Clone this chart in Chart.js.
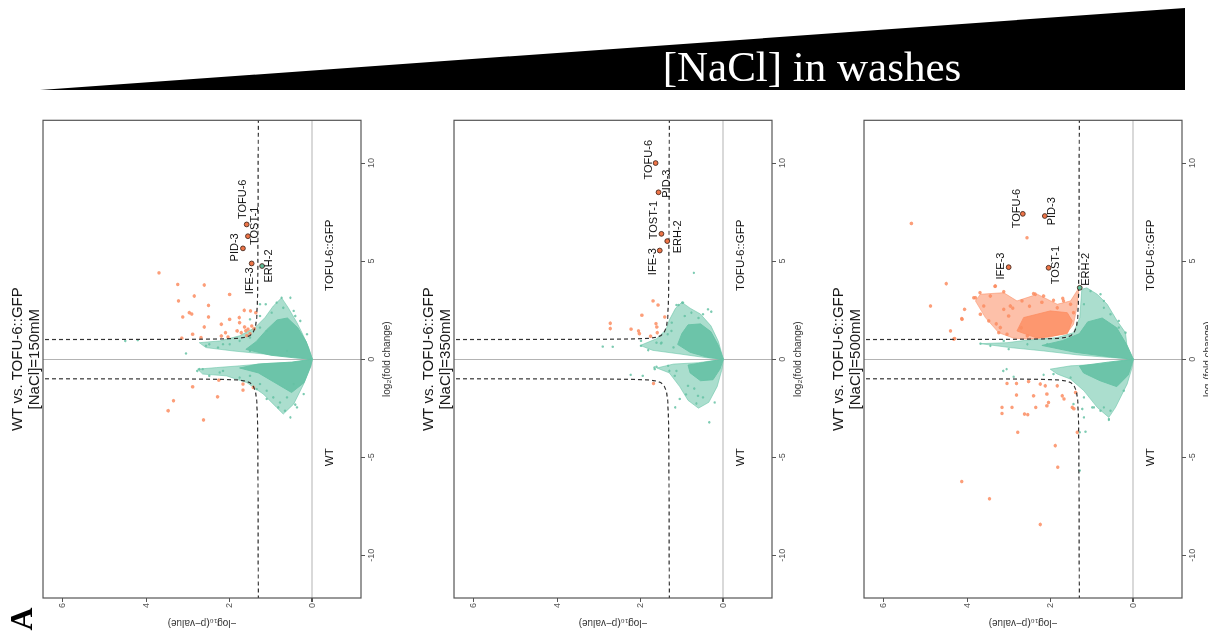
<!DOCTYPE html>
<html lang="en">
<head>
  <meta charset="UTF-8" />
  <title>WT vs. TOFU-6::GFP volcano plots - [NaCl] in washes</title>
  <script src="https://cdn.jsdelivr.net/npm/chart.js"></script>
  <style>
    html, body { margin: 0; padding: 0; width: 1208px; height: 637px; overflow: hidden; background: #fff; }
    /* each panel is a normal volcano plot, turned a quarter turn counter-clockwise */
    .panel { position: absolute; top: 172px; width: 520px; height: 410px; transform: rotate(-90deg); transform-origin: 50% 50%; }
    .panel canvas { width: 520px; height: 410px; }
    #overlay { position: absolute; left: 0; top: 0; pointer-events: none; }
  </style>
</head>
<body>

  <!-- panels -->
  <div class="panel" style="left:-55px"><canvas id="v150" width="520" height="410"></canvas></div>
  <div class="panel" style="left:356px"><canvas id="v350" width="520" height="410"></canvas></div>
  <div class="panel" style="left:766px"><canvas id="v500" width="520" height="410"></canvas></div>

  <!-- header wedge + panel letter -->
  <svg id="overlay" width="1208" height="637">
    <polygon points="40,90 1185,8 1185,90" fill="#000" />
    <text x="812" y="81" text-anchor="middle" fill="#fff" font-family="'Liberation Serif', 'Times New Roman', serif" font-size="43">[NaCl] in washes</text>
    <text transform="translate(21,619) rotate(-90)" text-anchor="middle" dominant-baseline="central" fill="#000" font-family="'Liberation Serif', 'Times New Roman', serif" font-weight="bold" font-size="32">A</text>
  </svg>

  <script>
    // all pairs are [ -log10(p-value), log2(fold change) ]
    const salts = ['150mM', '350mM', '500mM'];
    const sideText = ['TOFU-6::GFP', 'WT'];
    const sidePos = [[-0.41, 5.3], [-0.41, -5.0]];

    // significance threshold curves (same in every panel)
    const threshUp = [[6.6, 1.0], [3.0, 1.01], [2.2, 1.03], [1.8, 1.06], [1.6, 1.12], [1.5, 1.2], [1.42, 1.38], [1.37, 1.65], [1.34, 2.1], [1.32, 3.0], [1.31, 5.0], [1.3, 12.3]];
    const threshDn = [[6.6, -1.0], [3.0, -1.01], [2.2, -1.03], [1.8, -1.06], [1.6, -1.12], [1.5, -1.2], [1.42, -1.38], [1.37, -1.65], [1.34, -2.1], [1.32, -3.0], [1.31, -5.0], [1.3, -12.3]];

    // ---- [NaCl]=150mM ----
    const p1Names = ['TOFU-6', 'TOST-1', 'PID-3', 'IFE-3', 'ERH-2'];
    const p1Hits = [[1.58, 6.87], [1.55, 6.27], [1.67, 5.65], [1.46, 4.88], [1.21, 4.75]];
    const p1HitSig = [true, true, true, true, false];
    const p1LabelPos = [[1.67, 8.15], [1.38, 6.80], [1.86, 5.70], [1.49, 4.00], [1.05, 4.75]];
    const p1Orange = [[3.69, 4.40], [3.24, 3.81], [2.60, 3.78], [3.22, 2.97], [2.84, 3.22], [1.99, 3.30], [2.96, 2.37], [2.90, 2.30], [3.12, 2.15],
      [2.50, 2.74], [2.50, 2.15], [2.60, 1.64], [2.88, 1.27], [3.14, 1.07], [2.68, 1.10], [2.19, 1.78], [2.09, 1.35], [1.99, 2.03], [1.76, 2.12],
      [1.64, 2.49], [1.49, 2.46], [1.36, 2.37], [1.75, 1.86], [1.63, 1.64], [1.81, 1.44], [1.71, 1.35], [1.55, 1.53], [2.03, 1.13], [2.19, 1.18],
      [1.46, 1.69], [1.60, 1.45], [1.50, 1.30], [1.58, 1.20], [1.40, 1.55],
      [2.25, -1.07], [2.88, -1.41], [2.28, -1.92], [3.34, -2.12], [3.47, -2.63], [2.62, -3.10], [1.67, -1.27], [1.42, -1.44], [1.67, -1.58]];
    const p1Green = [[3.04, 0.29], [1.12, 2.80], [1.26, 2.80], [0.86, 2.88], [0.98, 2.37], [2.77, -0.60], [2.64, -0.51], [2.48, -0.85], [0.82, -2.46],
      [0.66, -2.63], [0.41, -2.32], [0.94, -1.95], [1.10, -1.61], [1.34, -1.53], [2.27, 0.59], [2.48, 0.76], [0.53, 3.13], [0.45, 2.46], [0.29, 1.95],
      [0.13, 1.27], [0.61, 0.42], [1.50, 0.42], [1.26, 1.61], [1.50, 1.10], [1.99, 0.76], [2.15, -0.60], [1.75, -0.94], [0.61, -1.95], [0.21, -1.78],
      [0.45, -1.27], [4.5, 0.93], [4.2, 0.97], [0.74, 3.13], [1.50, 2.03], [1.26, 2.20], [1.75, 0.93], [2.15, 0.76], [2.56, 0.68], [1.10, 1.44],
      [0.70, 2.62], [0.41, 2.20], [2.72, -0.51], [2.23, -0.68], [1.50, -0.85], [1.26, -1.27], [1.10, -2.03], [0.78, -2.21], [0.53, -2.97],
      [0.37, -2.46]];
    const p1CloudUp = [[0, 0], [0.09, 0.59], [0.25, 1.35], [0.37, 1.86], [0.58, 2.62], [0.74, 3.13], [0.94, 2.71], [1.14, 2.12], [1.38, 1.61], [1.75, 1.19],
      [2.23, 0.93], [2.72, 0.84], [2.56, 0.59], [1.91, 0.42], [1.10, 0.25], [0.45, 0.12], [0, 0]];
    const p1CoreUp = [[0, 0], [0.15, 0.9], [0.35, 1.6], [0.6, 2.1], [0.85, 2.0], [1.1, 1.5], [1.35, 0.9], [1.6, 0.5], [1.0, 0.2], [0.4, 0.06], [0, 0]];
    const p1CloudDn = [[0, 0], [0.45, -0.17], [1.10, -0.22], [1.75, -0.34], [2.31, -0.43], [2.76, -0.51], [2.64, -0.76], [2.07, -0.85], [1.58, -1.19],
      [1.18, -1.78], [0.86, -2.46], [0.70, -2.80], [0.45, -2.29], [0.21, -1.27], [0.03, -0.34], [0, 0]];
    const p1CoreDn = [[0, 0], [0.5, -0.15], [1.3, -0.25], [1.75, -0.45], [1.3, -0.7], [0.9, -1.2], [0.5, -1.7], [0.2, -1.2], [0.05, -0.4], [0, 0]];

    // ---- [NaCl]=350mM ----
    const p2Names = ['TOFU-6', 'PID-3', 'TOST-1', 'IFE-3', 'ERH-2'];
    const p2Hits = [[1.63, 10.0], [1.56, 8.51], [1.49, 6.39], [1.53, 5.54], [1.35, 6.02]];
    const p2HitSig = [true, true, true, true, true];
    const p2LabelPos = [[1.78, 10.17], [1.35, 8.95], [1.66, 7.09], [1.69, 4.97], [1.09, 6.24]];
    const p2Orange = [[1.69, 2.97], [1.57, 2.76], [1.96, 2.24], [2.72, 1.83], [2.72, 1.56], [2.22, 1.53], [2.04, 1.44], [2.02, 1.30], [1.62, 1.81],
      [1.60, 1.64], [1.59, 1.35], [1.41, 2.15], [1.75, 1.17], [1.68, -1.24]];
    const p2Green = [[0.71, 4.40], [2.90, 0.64], [2.66, 0.63], [0.99, 2.88], [1.13, 2.76], [0.29, 2.42], [1.98, 0.93], [1.66, -0.43], [2.23, -0.80],
      [1.94, -0.85], [1.61, -0.39], [1.33, -0.34], [1.17, -0.85], [1.05, -2.03], [1.16, -2.46], [0.34, -3.22], [0.65, -2.26], [0.49, -1.95],
      [0.85, -1.36], [1.24, 1.86], [1.34, 1.27], [0.93, 2.2], [0.6, 2.1], [1.5, 0.8], [1.2, 0.6], [0.9, -1.8], [0.7, -1.5], [1.3, -0.6],
      [0.97, 2.88], [1.08, 2.76], [0.37, 2.54], [1.25, 1.44], [1.49, 0.84], [1.61, 0.84], [1.81, 0.46], [1.98, 0.68], [1.65, -0.51], [1.13, -0.60],
      [0.61, -1.87], [0.21, -2.21], [0.49, 2.29], [0.77, 2.37]];
    const p2CloudUp = [[0, 0], [0.12, 0.9], [0.3, 1.7], [0.55, 2.3], [0.8, 2.6], [1.0, 2.9], [1.15, 2.6], [1.3, 2.0], [1.38, 1.5], [1.6, 1.05], [2.0, 0.7],
      [1.7, 0.45], [1.0, 0.25], [0.4, 0.07], [0, 0]];
    const p2CoreUp = [[0, 0], [0.12, 0.7], [0.3, 1.4], [0.55, 1.8], [0.85, 1.75], [1.0, 1.3], [1.1, 0.75], [0.8, 0.35], [0.35, 0.08], [0, 0]];
    const p2CloudDn = [[0, 0], [0.6, -0.18], [1.2, -0.25], [1.6, -0.45], [1.3, -0.7], [1.05, -1.4], [0.85, -2.1], [0.6, -2.5], [0.35, -2.2], [0.15, -1.4],
      [0.03, -0.5], [0, 0]];
    const p2CoreDn = [[0, 0], [0.5, -0.18], [0.85, -0.3], [0.8, -0.7], [0.55, -1.1], [0.25, -1.05], [0.08, -0.5], [0, 0]];

    // ---- [NaCl]=500mM ----
    const p3Names = ['TOFU-6', 'PID-3', 'IFE-3', 'TOST-1', 'ERH-2'];
    const p3Hits = [[2.66, 7.41], [2.13, 7.30], [3.00, 4.69], [2.04, 4.66], [1.29, 3.64]];
    const p3HitSig = [true, true, true, true, false];
    const p3LabelPos = [[2.80, 7.68], [1.95, 7.54], [3.18, 4.75], [1.86, 4.80], [1.15, 4.58]];
    const p3Orange = [[5.34, 6.92], [2.56, 6.19], [4.50, 3.85], [3.33, 3.71], [3.12, 3.44], [4.88, 2.71], [4.13, 2.07], [4.06, 2.54], [4.40, 1.44],
      [4.30, 1.05], [3.69, 3.39], [3.84, 3.13], [4.32, 1.02], [4.12, 2.03], [3.80, 3.13], [3.32, 3.73], [3.44, 3.22], [3.60, 2.71], [3.48, 1.95],
      [3.24, 1.35], [3.68, 2.29], [2.36, 3.31], [1.92, 3.00], [1.51, 2.80], [1.44, 2.37], [2.9, 2.6], [2.5, 2.7], [3.0, 2.2], [2.2, 2.9], [1.7, 3.1],
      [2.7, 1.6], [3.3, 1.8], [2.40, 3.34], [2.16, 3.22], [2.68, 2.97], [2.96, 2.71], [3.12, 2.54], [3.20, 1.61], [3.04, 1.27], [2.55, 1.19],
      [1.68, 2.97], [1.83, 2.62],
      [3.04, -1.24], [2.81, -1.24], [2.52, -1.14], [2.24, -1.27], [2.12, -1.36], [2.08, -1.78], [2.81, -1.83], [2.40, -1.87], [1.71, -1.87],
      [1.67, -2.03], [2.04, -2.21], [2.08, -2.38], [3.16, -2.46], [3.16, -2.77], [2.92, -2.46], [2.35, -2.46], [2.62, -2.80], [2.54, -2.83],
      [1.47, -2.46], [1.43, -2.53], [1.39, -1.70], [1.35, -3.73], [2.78, -3.73], [1.88, -4.41], [1.82, -5.51], [4.13, -6.24], [3.46, -7.12],
      [2.24, -8.43], [1.83, -1.36]];
    const p3Green = [[3.05, -0.51], [3.13, -0.60], [2.16, -0.80], [3.68, 0.79], [3.00, 0.51], [1.44, -2.29], [1.19, -2.97], [0.99, -2.46], [0.71, -2.46],
      [0.59, -3.05], [1.29, -3.73], [0.71, 2.97], [0.35, 1.95], [0.19, 1.35], [2.88, -0.90], [1.15, -3.70], [1.29, -5.68], [0.59, -3.10], [1.23, -2.54],
      [0.95, -2.46], [0.71, 2.62], [0.79, 3.31], [1.03, 3.47], [0.55, 2.29], [0.35, 1.61], [1.19, 2.80], [2.07, 0.76], [2.55, 0.76], [3.12, 0.93],
      [3.44, 0.68], [1.92, -0.76], [1.51, -0.94], [1.19, -1.95], [0.79, -2.63], [0.55, -2.63], [0.23, -1.61]];
    const p3OrangeCloud = [[1.31, 3.64], [1.51, 2.97], [1.83, 2.80], [2.31, 3.31], [2.80, 2.97], [3.12, 3.39], [3.68, 3.31], [3.80, 2.97], [3.56, 2.12],
      [3.24, 1.35], [2.88, 1.07], [2.48, 1.02], [2.00, 1.13], [1.59, 1.35], [1.44, 1.78], [1.36, 2.62], [1.31, 3.64]];
    const p3OrangeCore = [[2.00, 2.46], [2.64, 2.12], [2.80, 1.44], [2.31, 1.07], [1.59, 1.30], [1.47, 1.95], [1.59, 2.37], [2.00, 2.46]];
    const p3CloudUp = [[0, 0], [0.15, 0.59], [0.19, 1.35], [0.39, 1.95], [0.63, 2.80], [0.87, 3.31], [1.12, 3.64], [1.24, 3.56], [1.29, 2.12], [1.44, 1.35],
      [1.83, 1.10], [2.56, 0.97], [3.04, 0.84], [3.68, 0.79], [2.96, 0.59], [2.16, 0.42], [1.35, 0.22], [0.55, 0.08], [0, 0]];
    const p3CoreUp = [[0, 0], [0.15, 0.7], [0.4, 1.6], [0.75, 2.1], [1.1, 1.9], [1.3, 1.3], [1.7, 0.95], [2.2, 0.7], [1.4, 0.35], [0.5, 0.1], [0, 0]];
    const p3CloudDn = [[0, 0], [0.71, -0.25], [1.51, -0.34], [2.00, -0.51], [1.83, -0.76], [1.51, -1.02], [1.19, -1.61], [0.87, -2.46], [0.59, -2.97],
      [0.43, -2.46], [0.15, -1.27], [0.03, -0.43], [0, 0]];
    const p3CoreDn = [[0, 0], [0.6, -0.15], [1.3, -0.35], [1.2, -0.7], [0.8, -1.1], [0.4, -1.4], [0.12, -0.8], [0, 0]];

    const FONT = '"Liberation Sans", Arial, Helvetica, sans-serif';

    // x = log2 fold change, y = -log10 p
    const toXY = a => a.map(d => ({ x: d[1], y: d[0] }));

    function area(pts, color, order) {
      return { data: toXY(pts), showLine: true, fill: 'shape', backgroundColor: color, borderColor: color, borderWidth: 1,
        pointRadius: 0, pointHoverRadius: 0, tension: 0, order };
    }
    function dots(pts, color, r, order) {
      return { data: toXY(pts), backgroundColor: color, borderWidth: 0, pointRadius: r, pointHoverRadius: r, order };
    }
    function dashed(pts) {
      return { data: toXY(pts), showLine: true, fill: false, borderColor: '#333', borderWidth: 1.2, borderDash: [4, 3],
        pointRadius: 0, pointHoverRadius: 0, tension: 0, order: 1 };
    }

    // gene labels, side annotations and panel frame
    const geneText = {
      id: 'geneText',
      afterDatasetsDraw(chart, args, opts) {
        const { ctx, chartArea: a } = chart;
        const x = chart.scales.x, y = chart.scales.y;
        ctx.save();
        ctx.fillStyle = '#111';
        ctx.textAlign = 'center';
        ctx.textBaseline = 'middle';
        ctx.font = '11px ' + FONT;
        opts.names.forEach((n, i) => {
          ctx.fillText(n, x.getPixelForValue(opts.pos[i][1]), y.getPixelForValue(opts.pos[i][0]));
        });
        ctx.font = '11.5px ' + FONT;
        sideText.forEach((t, i) => {
          ctx.fillText(t, x.getPixelForValue(sidePos[i][1]), y.getPixelForValue(sidePos[i][0]));
        });
        ctx.strokeStyle = '#555';
        ctx.lineWidth = 1.2;
        ctx.strokeRect(a.left, a.top, a.width, a.height);
        ctx.restore();
      }
    };

    function volcano(id, salt, names, hits, sig, labelPos, orange, green, greenAreas, orangeAreas) {
      const sets = [
        { data: toXY(hits), backgroundColor: sig.map(s => s ? '#EE7447' : '#5DBB98'), borderColor: '#4a2a1e', borderWidth: 0.9,
          pointRadius: 2.4, pointHoverRadius: 2.4, order: 0 },
        dashed(threshUp),
        dashed(threshDn),
        dots(orange, 'rgba(252,141,98,0.85)', 1.8, 2),
        dots(green, 'rgba(102,194,165,0.85)', 1.2, 3),
        area(greenAreas[0], 'rgba(102,194,165,0.55)', 7),
        area(greenAreas[1], 'rgba(102,194,165,0.9)', 6),
        area(greenAreas[2], 'rgba(102,194,165,0.55)', 7),
        area(greenAreas[3], 'rgba(102,194,165,0.9)', 6)
      ];
      if (orangeAreas) {
        sets.push(area(orangeAreas[0], 'rgba(252,141,98,0.55)', 5));
        sets.push(area(orangeAreas[1], 'rgba(252,141,98,0.8)', 4));
      }

      new Chart(document.getElementById(id), {
        type: 'scatter',
        data: { datasets: sets },
        plugins: [geneText],
        options: {
          responsive: false,
          animation: false,
          layout: { padding: { right: 2 } },
          plugins: {
            legend: { display: false },
            tooltip: { enabled: false },
            title: {
              display: true, fullSize: false,
              text: ['WT vs. TOFU-6::GFP', '[NaCl]=' + salt],
              color: '#1a1a1a',
              font: { family: FONT, size: 15, weight: 'normal', lineHeight: 1.147 },
              padding: { top: 9, bottom: -0.4 }
            },
            geneText: { names, pos: labelPos }
          },
          scales: {
            x: {
              type: 'linear', min: -12.18, max: 12.18,
              ticks: { stepSize: 5, includeBounds: false, color: '#555', font: { family: FONT, size: 9 }, padding: 1, maxRotation: 0 },
              grid: { color: c => c.tick.value === 0 ? '#b3b3b3' : 'rgba(0,0,0,0)', tickColor: '#555', tickLength: 4 },
              border: { display: false },
              title: { display: true, text: 'log₂(fold change)', color: '#333', font: { family: FONT, size: 10 }, padding: { top: 0, bottom: 17 } },
              afterFit: s => { s.height = 49; }
            },
            y: {
              type: 'linear', min: -1.17, max: 6.48,
              ticks: { stepSize: 2, includeBounds: false, color: '#555', font: { family: FONT, size: 9 }, padding: 1 },
              grid: { color: c => c.tick.value === 0 ? '#d9d9d9' : 'rgba(0,0,0,0)', lineWidth: c => c.tick.value === 0 ? 2 : 1, tickColor: '#555', tickLength: 4 },
              border: { display: false },
              title: { display: true, text: '−log₁₀(p−value)', color: '#333', font: { family: FONT, size: 10 }, padding: { top: 8, bottom: 0 } },
              afterFit: s => { s.width = 39; }
            }
          }
        }
      });
    }

    volcano('v150', salts[0], p1Names, p1Hits, p1HitSig, p1LabelPos, p1Orange, p1Green, [p1CloudUp, p1CoreUp, p1CloudDn, p1CoreDn]);
    volcano('v350', salts[1], p2Names, p2Hits, p2HitSig, p2LabelPos, p2Orange, p2Green, [p2CloudUp, p2CoreUp, p2CloudDn, p2CoreDn]);
    volcano('v500', salts[2], p3Names, p3Hits, p3HitSig, p3LabelPos, p3Orange, p3Green, [p3CloudUp, p3CoreUp, p3CloudDn, p3CoreDn], [p3OrangeCloud, p3OrangeCore]);
  </script>
</body>
</html>
